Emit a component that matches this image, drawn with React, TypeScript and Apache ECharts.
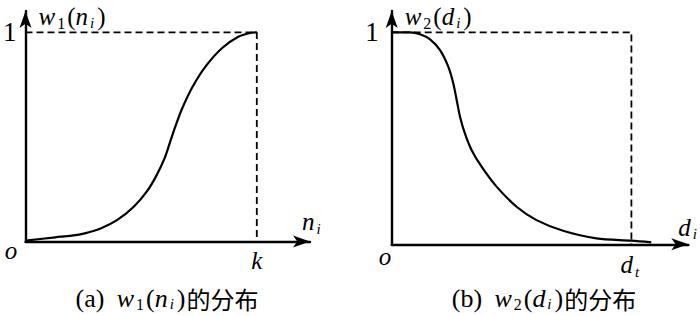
import React, { useEffect, useRef } from "react";
import * as echarts from "echarts";

// Panel (a): w1(n_i), x in units of k (k = 1)
const curveA: [number, number][] = [
  [0, 0.004], [0.129, 0.02], [0.2, 0.028], [0.256, 0.039], [0.327, 0.063],
  [0.397, 0.103], [0.468, 0.166], [0.524, 0.238], [0.566, 0.315], [0.602, 0.4],
  [0.625, 0.475], [0.648, 0.55], [0.675, 0.63], [0.72, 0.735], [0.778, 0.836],
  [0.849, 0.924], [0.92, 0.979], [0.976, 0.998], [1.0, 1.0],
];
const guideA: [number, number][] = [[0, 1], [1, 1], [1, 0]];

// Panel (b): w2(d_i), x in units of d_t (d_t = 1)
const curveB: [number, number][] = [
  [0, 1], [0.076, 1.0], [0.118, 0.991], [0.16, 0.967], [0.201, 0.917],
  [0.236, 0.838], [0.257, 0.759], [0.271, 0.681], [0.285, 0.602], [0.305, 0.524],
  [0.333, 0.445], [0.375, 0.366], [0.4375, 0.272], [0.521, 0.177], [0.604, 0.114],
  [0.715, 0.064], [0.854, 0.028], [1.0, 0.017], [1.083, 0.009],
];
const guideB: [number, number][] = [[0, 1], [1, 1], [1, 0]];

const yTickValue = 1;
const yTickLabel = "1";
const xTickValue = 1;
const xTickLabelA = "{v|k}";
const xTickLabelB = "{v|d}{si|t}";
const yNameA = "{v|w}{s|1}{n|(}{v|n}{si|i}{n|)}";
const yNameB = "{v|w}{s|2}{n|(}{v|d}{si|i}{n|)}";
const xNameA = "{v|n}{si|i}";
const xNameB = "{v|d}{si|i}";
const captionA = "{n|(a)}{sp| }{v|w}{s|1}{n|(}{v|n}{si|i}{n|)}{c|的分布}";
const captionB = "{n|(b)}{sp| }{v|w}{s|2}{n|(}{v|d}{si|i}{n|)}{c|的分布}";
const originLabel = "o";

const SERIF = "Liberation Serif";
const CJK = "Noto Sans CJK SC";
const FS = 25;

const rich: any = {
  v: { fontFamily: SERIF, fontStyle: "italic", fontSize: FS, color: "#000" },
  n: { fontFamily: SERIF, fontSize: FS, color: "#000" },
  sp: { fontFamily: SERIF, fontSize: FS, color: "#000", padding: [0, 6, 0, 0] },
  s: { fontFamily: SERIF, fontSize: 16, color: "#000", padding: [14, 2, 0, 2] },
  si: { fontFamily: SERIF, fontStyle: "italic", fontSize: 15, color: "#000", padding: [14, 3, 0, 2] },
};
const captionRich: any = {
  ...rich,
  v: { ...rich.v, fontSize: 26 },
  n: { ...rich.n, fontSize: 26 },
  s: { ...rich.s, padding: [12, 2, 0, 2] },
  si: { ...rich.si, padding: [12, 3, 0, 2] },
  c: { fontFamily: CJK, fontSize: 24, color: "#000", padding: [0, 0, 0, 1] },
};

const axisLineStyle = { color: "#000", width: 2.4 };

export default function App() {
  const ref = useRef<HTMLDivElement>(null);
  useEffect(() => {
    document.body.style.margin = "0";
    const chart = echarts.init(ref.current!, null, { renderer: "svg" });
    const makeX = (idx: number, max: number, label: string, name: string, nameGap: number, padB: number, margin: number) => ({
      type: "value",
      gridIndex: idx,
      min: 0,
      max,
      interval: 1,
      splitLine: { show: false },
      axisTick: { show: false },
      axisLine: { show: true, onZero: false, lineStyle: axisLineStyle, symbol: ["none", "arrow"], symbolSize: [9, 17] },
      axisLabel: {
        margin,
        rich,
        formatter: (v: number) => (Math.abs(v - xTickValue) < 1e-9 ? label : ""),
      },
      name,
      nameLocation: "end",
      nameGap,
      nameTextStyle: { rich, align: "left", verticalAlign: "middle", padding: [0, 0, padB, 0] },
    });
    const makeY = (idx: number, max: number, name: string, margin: number) => ({
      type: "value",
      gridIndex: idx,
      min: 0,
      max,
      interval: 1,
      splitLine: { show: false },
      axisTick: { show: false },
      axisLine: { show: true, onZero: false, lineStyle: axisLineStyle, symbol: ["none", "arrow"], symbolSize: [9, 17] },
      axisLabel: {
        margin,
        fontFamily: SERIF,
        fontSize: 27,
        color: "#000",
        formatter: (v: number) => (Math.abs(v - yTickValue) < 1e-9 ? yTickLabel : ""),
      },
      name,
      nameLocation: "end",
      nameGap: -5,
      nameTextStyle: { rich, align: "left", verticalAlign: "middle", padding: [0, 0, 0, 13] },
    });
    const curveStyle = { color: "#000", width: 2.2 };
    const dashStyle = { color: "#000", width: 1.8, type: [7, 4] as any };
    chart.setOption({
      animation: false,
      grid: [
        { left: 19.5, top: 11, width: 290.5, height: 230.5 },
        { left: 391.7, top: 11, width: 297, height: 233.3 },
      ],
      xAxis: [
        makeX(0, 1.23, xTickLabelA, xNameA, -8, 40, 6),
        makeX(1, 1.2375, xTickLabelB, xNameB, -10, 34, 6),
      ],
      yAxis: [makeY(0, 1.102, yNameA, 9), makeY(1, 1.1005, yNameB, 13)],
      series: [
        { type: "line", xAxisIndex: 0, yAxisIndex: 0, data: guideA, symbol: "none", lineStyle: dashStyle, silent: true },
        { type: "line", xAxisIndex: 0, yAxisIndex: 0, data: curveA, symbol: "none", smooth: 0.3, lineStyle: curveStyle, silent: true },
        { type: "line", xAxisIndex: 1, yAxisIndex: 1, data: guideB, symbol: "none", lineStyle: dashStyle, silent: true },
        { type: "line", xAxisIndex: 1, yAxisIndex: 1, data: curveB, symbol: "none", smooth: 0.3, lineStyle: curveStyle, silent: true },
      ],
      graphic: [
        { type: "text", x: 11, y: 250, style: { text: originLabel, fontFamily: SERIF, fontStyle: "italic", fontSize: FS, fill: "#000", align: "center", verticalAlign: "middle" } },
        { type: "text", x: 385, y: 256, style: { text: originLabel, fontFamily: SERIF, fontStyle: "italic", fontSize: FS, fill: "#000", align: "center", verticalAlign: "middle" } },
        { type: "text", x: 167, y: 298, style: { text: captionA, rich: captionRich, fill: "#000", align: "center", verticalAlign: "middle" } },
        { type: "text", x: 544, y: 298, style: { text: captionB, rich: captionRich, fill: "#000", align: "center", verticalAlign: "middle" } },
      ],
    });
    return () => chart.dispose();
  }, []);
  return <div ref={ref} style={{ position: "absolute", left: 0, top: 0, width: 700, height: 316, background: "#fff" }} />;
}
